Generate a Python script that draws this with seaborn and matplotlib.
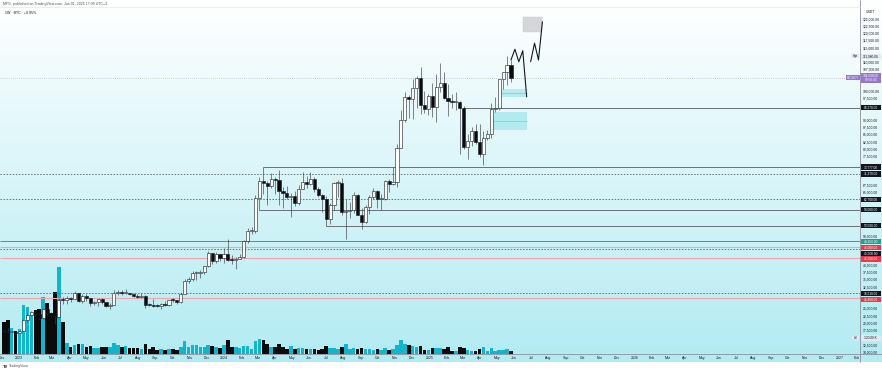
import numpy as np
import pandas as pd
import matplotlib
matplotlib.use("Agg")
import matplotlib.pyplot as plt
import matplotlib.transforms as mtrans
import matplotlib.dates as mdates
from matplotlib.patches import Rectangle
from matplotlib.lines import Line2D
from matplotlib.colors import LinearSegmentedColormap
import seaborn as sns

sns.set_theme(style="white")
plt.rcParams['font.family'] = ['Liberation Sans', 'DejaVu Sans']

# ---------------- data (weekly BTCUSDT candles) ----------------
first_week = "2022-12-05"
first_open = 17128
closes = [17085, 16757, 16838, 16618, 17127, 20870, 22708, 23744, 22931, 21781,
          24629, 23490, 22420, 22120, 27980, 27939, 28453, 28323, 30295, 27591,
          29233, 28430, 26910, 27110, 28080, 27120, 25850, 26340, 30470, 30590,
          30170, 30240, 30080, 29280, 29060, 29280, 26100, 26090, 25840, 25830,
          26530, 26250, 27970, 27920, 27150, 29990, 34500, 35010, 37060, 37360,
          37450, 39460, 43990, 41370, 43700, 42280, 43930, 41730, 41580, 42030,
          42580, 48300, 51570, 51730, 63130, 68960, 68390, 67210, 69650, 69360,
          65660, 64940, 63420, 63890, 61480, 66270, 68500, 67760, 69650, 66200,
          64250, 62700, 55850, 60800, 68170, 68250, 58110, 58720, 58930, 64220,
          57300, 54840, 59950, 63580, 65600, 62820, 62850, 69000, 68000, 68750,
          80400, 89850, 97900, 97200, 101100, 104500, 95200, 93700, 98300, 94500,
          101300, 102600, 97700, 96500, 96100, 96250, 94270, 80700, 82600, 86100,
          82350, 78370, 83750, 85180, 93750, 94300, 104000, 106450, 109000, 104600]
highs = [17424, 18387, 16960, 16950, 17176, 21258, 23371, 23955, 24255, 23340,
         25250, 25021, 23890, 22600, 28472, 28868, 29185, 28800, 30999, 30478,
         30036, 29820, 28650, 27660, 28200, 28450, 27350, 26800, 31430, 31280,
         31500, 31800, 30440, 30330, 29990, 30240, 29690, 26800, 28150, 26440,
         26880, 27480, 28050, 28580, 27980, 30380, 35200, 35990, 38000, 37980,
         38420, 39700, 44700, 44000, 44300, 43900, 45880, 48970, 43580, 42850,
         43880, 48600, 52820, 52980, 64000, 70170, 73780, 68900, 71770, 70300,
         72800, 66870, 67250, 64730, 65500, 67700, 71950, 70600, 71990, 70200,
         67000, 64500, 63800, 61400, 68500, 69400, 70080, 62700, 61800, 65000,
         64480, 59800, 60650, 64130, 66500, 66000, 64450, 69400, 69500, 73620,
         81800, 93480, 99600, 98700, 104000, 105250, 108350, 99960, 99000, 102700,
         106000, 109600, 106450, 102500, 98800, 99500, 96500, 95000, 85300, 87450,
         88750, 88500, 86100, 86500, 95800, 97900, 104150, 106650, 111980, 110700]
lows = [16873, 16528, 16559, 16333, 16604, 17100, 20406, 22292, 22500, 21451,
        21351, 22760, 21970, 19549, 21870, 26601, 26500, 27200, 28171, 27125,
        26942, 27680, 25810, 26340, 25880, 26510, 25350, 24800, 26240, 29500,
        29700, 29950, 29500, 28860, 28590, 28750, 25170, 25800, 25330, 25370,
        24900, 26000, 25990, 27160, 26540, 26960, 29800, 33900, 34520, 34800,
        35630, 36700, 39300, 40200, 40500, 41300, 40750, 41500, 40270, 38550,
        41900, 42260, 47700, 50520, 50900, 59000, 64600, 60760, 66600, 64500,
        60660, 59600, 62800, 56550, 60190, 60750, 66060, 66600, 67500, 65000,
        63400, 58400, 53500, 54260, 59000, 63450, 57120, 49000, 56080, 57800,
        57200, 52550, 54580, 57500, 62700, 59800, 58900, 62400, 65000, 67500,
        66800, 80200, 89380, 90800, 90500, 94150, 92200, 92500, 91600, 91200,
        89250, 99500, 97400, 91230, 94100, 93400, 78200, 80000, 76600, 81200,
        81600, 77150, 74500, 83100, 83950, 92800, 93300, 100700, 102000, 103100]
volumes_k = [1280, 1360, 1040, 920, 1000, 1960, 1880, 1640, 1760, 1800,
             2280, 2040, 1640, 2480, 3480, 1280, 440, 280, 360, 400,
             400, 300, 330, 240, 260, 280, 300, 290, 460, 380,
             300, 330, 230, 240, 230, 220, 400, 200, 280, 150,
             200, 170, 200, 200, 160, 280, 520, 300, 380, 350,
             280, 280, 380, 340, 270, 240, 380, 560, 280, 300,
             230, 330, 340, 220, 520, 600, 560, 420, 300, 280,
             420, 300, 200, 320, 200, 230, 260, 200, 190, 200,
             170, 200, 330, 250, 260, 200, 280, 420, 210, 230,
             200, 230, 200, 210, 170, 200, 170, 230, 170, 210,
             370, 560, 400, 350, 330, 280, 330, 170, 150, 240,
             230, 230, 200, 280, 140, 140, 280, 250, 170, 140,
             130, 200, 300, 130, 240, 140, 180, 170, 220, 120]

# horizontal levels: price, start date (None = whole chart), kind
level_prices = [94270, 73777, 71370, 62700, 59000, 53500, 48150, 46080, 45500, 42290, 30210, 28480]
level_starts = ["2025-03-03", "2024-03-11", None, None, "2024-03-04", "2024-07-01",
                None, None, None, None, None, None]
level_kinds = ["solid", "solid", "dotted", "dotted", "solid", "solid",
               "teal", "red", "dotted", "red", "dotted", "red"]

# fair value gap boxes: start, end, low, high
fvg_starts = ["2025-04-21", "2025-05-05"]
fvg_ends = ["2025-06-23", "2025-06-23"]
fvg_lows = [86500, 97900]
fvg_highs = [92800, 100700]

# target box
target_start, target_end = "2025-06-16", "2025-07-21"
target_low, target_high = 120260, 125640

# projected path (two legs)
path_dates = ["2025-05-26", "2025-06-02", "2025-06-09", "2025-06-16", "2025-06-23",
              "2025-06-30", "2025-07-07", "2025-07-14", "2025-07-21"]
path_prices = [110700, 114400, 110100, 113900, 98000,
               110100, 116500, 110700, 123900]
path_legs = ["a", "a", "a", "a", "a", "b", "b", "b", "b"]

last_price = 104600
week_high = 111980

# ---------------- frame ----------------
df = pd.DataFrame({
    "date": pd.date_range(first_week, periods=len(closes), freq="7D"),
    "open": [first_open] + closes[:-1],
    "high": highs, "low": lows, "close": closes, "volume": volumes_k,
})
df["x"] = mdates.date2num(df["date"])
df["up"] = df["close"] >= df["open"]

W, H = 882, 372
fig = plt.figure(figsize=(W / 100, H / 100), dpi=100)
fig.patch.set_facecolor("white")


def fx(px):
    return px / W


def fy(py):
    return 1 - py / H


# gradient background
bg = fig.add_axes([0, fy(362), 1, fy(0) - fy(362)], zorder=-10)
cmap = LinearSegmentedColormap.from_list("tvbg", ["#ffffff", "#b2ebf2"])
bg.imshow(np.linspace(0, 1, 256).reshape(-1, 1), aspect="auto", cmap=cmap,
          extent=[0, 1, 0, 1], origin="upper")
bg.axis("off")

rect = [0, fy(354), fx(860), fy(7) - fy(354)]
vax = fig.add_axes(rect, zorder=1)
ax = fig.add_axes(rect, zorder=2)
for a in (vax, ax):
    a.set_facecolor("none")
    for s in a.spines.values():
        s.set_visible(False)

base = mdates.date2num(pd.Timestamp("2023-01-01"))
PXD = 0.5616  # pixels per day
xlim = (base - 19 / PXD, base + 841 / PXD)
ylim = (131400 - 345 * 354, 131400 - 345 * 7)
PX = 345.0  # price per pixel

UP_VOL, DN_VOL = "#12b5cc", "#0b0b0b"

# volume
vax.bar(df["x"], df["volume"], width=6.3,
        color=[UP_VOL if u else DN_VOL for u in df["up"]], linewidth=0)
vax.set_xlim(*xlim)
vax.set_ylim(0, 347 * 40)
vax.set_xticks([])
vax.set_yticks([])

# levels
lvl_style = {
    "solid": dict(color="#6b6e78", lw=0.7, ls="-"),
    "dotted": dict(color="#4f525c", lw=0.55, ls=(0, (2, 2))),
    "teal": dict(color="#26a69a", lw=0.7, ls="-"),
    "red": dict(color="#f5a3a9", lw=0.8, ls="-"),
}
for p, s, k in zip(level_prices, level_starts, level_kinds):
    x0 = xlim[0] if s is None else mdates.date2num(pd.Timestamp(s))
    ax.hlines(p, x0, xlim[1], zorder=2, **lvl_style[k])

# FVG boxes
for s, e, lo, hi in zip(fvg_starts, fvg_ends, fvg_lows, fvg_highs):
    x0 = mdates.date2num(pd.Timestamp(s))
    x1 = mdates.date2num(pd.Timestamp(e))
    ax.add_patch(Rectangle((x0, lo), x1 - x0, hi - lo, facecolor="#00bcd4",
                           alpha=0.22, edgecolor="none", zorder=1.5))
    ax.hlines((lo + hi) / 2, x0, x1, color="#4dd0e1", lw=0.6, alpha=0.7, zorder=1.6)

# target box
tx0 = mdates.date2num(pd.Timestamp(target_start))
tx1 = mdates.date2num(pd.Timestamp(target_end))
ax.add_patch(Rectangle((tx0, target_low), tx1 - tx0, target_high - target_low,
                       facecolor="#d5d6da", edgecolor="#c9cace", lw=0.3, zorder=1.5))

# current price line
ax.axhline(last_price, color="#a0a3ad", lw=0.5, ls=(0, (1, 2)), zorder=1.4)

# candles
ax.vlines(df["x"], df["low"], df["high"], color="#3d3f47", lw=0.45, zorder=3)
body_lo = np.minimum(df["open"], df["close"])
body_h = np.maximum(np.abs(df["close"] - df["open"]), 1.0 * PX)
ax.bar(df["x"], body_h, bottom=body_lo, width=5.6,
       color=["#ffffff" if u else "#0b0b0b" for u in df["up"]],
       edgecolor="#131722", linewidth=0.4, zorder=4)

# projected path
path_df = pd.DataFrame({"x": mdates.date2num(pd.to_datetime(path_dates)),
                        "price": path_prices, "leg": path_legs})
sns.lineplot(data=path_df, x="x", y="price", units="leg", estimator=None, sort=False,
             color="#131722", lw=0.8, ax=ax, legend=False, zorder=5)

ax.set_xlim(*xlim)
ax.set_ylim(*ylim)
ax.set_xlabel("")
ax.set_ylabel("")

# time axis
months = pd.date_range("2022-12-01", "2027-02-01", freq="MS")
ax.set_xticks(mdates.date2num(months))
ax.set_xticklabels([str(m.year) if m.month == 1 else m.strftime("%b") for m in months])
ax.tick_params(axis="x", length=0, pad=1.3, labelsize=2.5, colors="#131722")

# ---------------- price tags (positions first, to hide scale labels under them) ----------------
tag_colors = {"solid": "#131722", "dotted": "#131722", "teal": "#22a08f", "red": "#f23645"}
tag_list = []  # (y, text, fc, tc, h)
order = np.argsort(level_prices)[::-1]
prev = None
for i in order:
    y = level_prices[i]
    if prev is not None and prev - y < 5.8 * PX:
        y = prev - 5.8 * PX
    tag_list.append((y, f"{level_prices[i]:,.2f}", tag_colors[level_kinds[i]], "white", 5.2))
    prev = y
tag_list.append((last_price, f"{last_price:,.2f}\n09:50:43", "#9575cd", "white", 10))
tag_list.append((week_high, f"{week_high:,.2f}", "#e3e8f2", "#131722", 5.2))
vol_y = 131400 - 345 * 338
tag_list.append((vol_y, f"{volumes_k[-1]:.2f} K", "#e3e8f2", "#131722", 5.2))

# price scale
ax.yaxis.tick_right()
ticks = np.arange(10000, 125001, 2500)
labels = []
for t in ticks:
    hidden = any(abs(t - ty) < (th / 2 + 2.6) * PX for ty, _, _, _, th in tag_list)
    labels.append("" if hidden else f"{t:,.2f}")
ax.set_yticks(ticks)
ax.set_yticklabels(labels)
ax.tick_params(axis="y", length=0, pad=2.2, labelsize=2.4, colors="#131722")

# axis lines
fig.add_artist(Line2D([fx(860), fx(860)], [fy(0), fy(362)], color="#8d9099", lw=0.6))
fig.add_artist(Line2D([0, 1], [fy(354), fy(354)], color="#8d9099", lw=0.6))
fig.add_artist(Line2D([0, fx(860)], [fy(7), fy(7)], color="#e4e6ea", lw=0.5))

tr = mtrans.blended_transform_factory(ax.transAxes, ax.transData)
TAG_X0, TAG_W = 1.0007, 20.5 / 860

for y, text, fc, tc, h in tag_list:
    ax.add_patch(Rectangle((TAG_X0, y - h * PX / 2), TAG_W, h * PX, transform=tr,
                           clip_on=False, facecolor=fc, edgecolor="none", zorder=20))
    ax.text(TAG_X0 + TAG_W / 2, y, text, transform=tr, ha="center", va="center",
            fontsize=2.3, color=tc, zorder=21, clip_on=False, linespacing=1.0)


def side_tag(y, x0px, wpx, text, fc, tc):
    ax.add_patch(Rectangle((x0px / 860, y - 2.2 * PX), wpx / 860, 4.4 * PX,
                           transform=tr, clip_on=False, facecolor=fc,
                           edgecolor="none", zorder=20))
    ax.text((x0px + wpx / 2) / 860, y, text, transform=tr, ha="center", va="center",
            fontsize=1.8, color=tc, zorder=21)


side_tag(last_price, 846, 13.5, "BTCUSDT", "#9575cd", "white")
side_tag(week_high, 851, 8, "High", "#e3e8f2", "#131722")
side_tag(vol_y, 851.5, 7.5, "Vol", "#e3e8f2", "#131722")

# header / footer text
fig.text(fx(870), fy(12), "USDT", fontsize=2.4, color="#131722", ha="center", va="center")
fig.text(fx(3), fy(4), "MFG, published on TradingView.com, Jun 01, 2025 17:09 UTC+3",
         fontsize=2.6, color="#50535e", va="center")
fig.text(fx(5), fy(12.5), "1W · BTC · +0.95%", fontsize=2.6, color="#131722", va="center")
fig.text(fx(3), fy(366.5), "TV", fontsize=3, fontweight="bold", color="#131722", va="center")
fig.text(fx(9), fy(366.5), "TradingView", fontsize=2.6, color="#50535e", va="center")

fig.savefig("out.png", dpi=100)
